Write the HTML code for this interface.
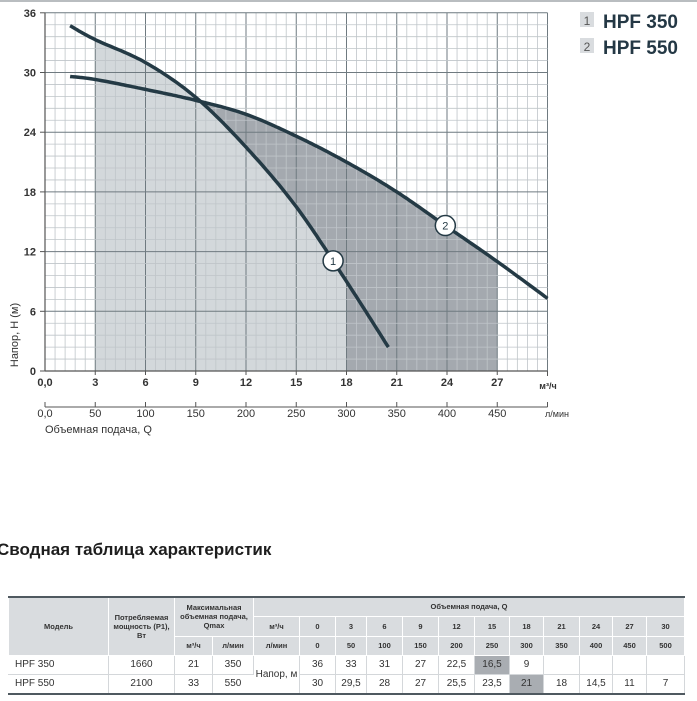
<!DOCTYPE html>
<html><head><meta charset="utf-8">
<style>
body{margin:0;width:697px;height:701px;background:#fff;position:relative;overflow:hidden;font-family:"Liberation Sans",sans-serif;}
#chart{position:absolute;left:0;top:0;}
#title{position:absolute;left:-3px;top:540px;font-size:17px;font-weight:bold;color:#1e1e1e;white-space:nowrap;}
table{position:absolute;left:8px;top:596px;border-collapse:collapse;table-layout:fixed;font-size:9px;color:#333;border-top:2px solid #4f5960;border-bottom:2px solid #4f5960;}
th{background:#d9dcdf;font-weight:bold;font-size:7.5px;border:1px solid #fff;padding:0;text-align:center;color:#333;line-height:9px;}
td{border:1px solid #d4d7da;border-left:1px solid #fff;padding:0;text-align:center;font-size:10px;height:18px;}
td.hl{background:#a9adb2;}
td.m{text-align:left;padding-left:6px;}
</style></head><body>
<svg id="chart" width="697" height="520" xmlns="http://www.w3.org/2000/svg">
<line x1="0" y1="1" x2="697" y2="1" stroke="#b9bdc0" stroke-width="2"/>
<g id="fills"></g><g id="grid"></g><g id="curves"></g><g id="axes"></g>
<g>
<rect x="580" y="12" width="14" height="15" fill="#d9dcdf"/><text x="587" y="25" font-size="12" text-anchor="middle" fill="#555">1</text>
<text x="603" y="28" font-size="19" font-weight="bold" fill="#243845">HPF 350</text>
<rect x="580" y="38" width="14" height="15" fill="#d9dcdf"/><text x="587" y="51" font-size="12" text-anchor="middle" fill="#555">2</text>
<text x="603" y="54" font-size="19" font-weight="bold" fill="#243845">HPF 550</text>
</g>
</svg>
<div id="title">Сводная таблица характеристик</div>
<table>
<colgroup><col style="width:100px"><col style="width:66px"><col style="width:38px"><col style="width:41px"><col style="width:46px"><col style="width:36px"><col style="width:31px"><col style="width:36px"><col style="width:36px"><col style="width:36px"><col style="width:35px"><col style="width:34px"><col style="width:36px"><col style="width:33px"><col style="width:34px"><col style="width:38px"></colgroup>
<tr style="height:19px"><th rowspan="3">Модель</th><th rowspan="3">Потребляемая мощность (P1), Вт</th><th colspan="2" rowspan="2">Максимальная объемная подача, Qmax</th><th colspan="12">Объемная подача, Q</th></tr>
<tr style="height:20px"><th>м³/ч</th><th>0</th><th>3</th><th>6</th><th>9</th><th>12</th><th>15</th><th>18</th><th>21</th><th>24</th><th>27</th><th>30</th></tr>
<tr style="height:19px"><th>м³/ч</th><th>л/мин</th><th>л/мин</th><th>0</th><th>50</th><th>100</th><th>150</th><th>200</th><th>250</th><th>300</th><th>350</th><th>400</th><th>450</th><th>500</th></tr>
<tr><td class="m">HPF 350</td><td>1660</td><td>21</td><td>350</td><td rowspan="2">Напор, м</td><td>36</td><td>33</td><td>31</td><td>27</td><td>22,5</td><td class="hl">16,5</td><td>9</td><td></td><td></td><td></td><td></td></tr>
<tr><td class="m">HPF 550</td><td>2100</td><td>33</td><td>550</td><td>30</td><td>29,5</td><td>28</td><td>27</td><td>25,5</td><td>23,5</td><td class="hl">21</td><td>18</td><td>14,5</td><td>11</td><td>7</td></tr>
</table>
<script>
const xTicks=[3,6,9,12,15,18,21,24,27];
const xTickLabels=["3","6","9","12","15","18","21","24","27"];
const lpmTicks=[50,100,150,200,250,300,350,400,450];
const yTicks=[0,6,12,18,24,30,36];
const q350=[1.5,3,6,9,12,15,18,20.5];
const h350=[34.7,33.3,31,27.5,22.5,16.5,9,2.4];
const q550=[1.5,3,6,9,12,15,18,21,24,27,30];
const h550=[29.6,29.3,28.3,27.2,25.8,23.6,21,18,14.5,11,7.3];
const SVGNS="http://www.w3.org/2000/svg";
const X=q=>45+q*16.75, Y=h=>371-h*9.95;
function mk(tag,attrs,parent){const e=document.createElementNS(SVGNS,tag);for(const k in attrs)e.setAttribute(k,attrs[k]);parent.appendChild(e);return e;}
function dense(qs,hs){const out=[];const n=qs.length;
 for(let i=0;i<n-1;i++){const p0=i>0?i-1:i,p3=i+2<n?i+2:i+1;
  for(let s=0;s<20;s++){const t=s/20,t2=t*t,t3=t2*t;
   const f=(a,b,c,d)=>0.5*(2*b+(-a+c)*t+(2*a-5*b+4*c-d)*t2+(-a+3*b-3*c+d)*t3);
   out.push([f(qs[p0],qs[i],qs[i+1],qs[p3]),f(hs[p0],hs[i],hs[i+1],hs[p3])]);}}
 out.push([qs[n-1],hs[n-1]]);return out;}
function hAt(d,q){for(let i=0;i<d.length-1;i++){if(d[i][0]<=q&&d[i+1][0]>=q){const t=(q-d[i][0])/(d[i+1][0]-d[i][0]);return d[i][1]+t*(d[i+1][1]-d[i][1]);}}return q<d[0][0]?d[0][1]:d[d.length-1][1];}
function area(d,a,b){let pts=[[a,0],[a,hAt(d,a)]];d.forEach(p=>{if(p[0]>a&&p[0]<b)pts.push(p);});pts.push([b,hAt(d,b)],[b,0]);return pts.map(p=>X(p[0]).toFixed(1)+","+Y(p[1]).toFixed(1)).join(" ");}
const d350=dense(q350,h350),d550=dense(q550,h550);
const fills=document.getElementById('fills');
let el=mk('polygon',{points:area(d550,3,27),fill:'#a4a9af'},fills);


el=mk('polygon',{points:area(d350,3,18),fill:'#d3d8db'},fills);


const grid=document.getElementById('grid');
for(let i=0;i<=50;i++){const q=i*0.6,maj=i%5===0;
 el=mk('line',{x1:X(q),x2:X(q),y1:Y(36),y2:Y(0),stroke:maj?'#6f7a80':'#bfc5c9','stroke-width':maj?1:0.8},grid);
 
 }
for(let i=0;i<=30;i++){const h=i*1.2,maj=i%5===0;
 el=mk('line',{x1:X(0),x2:X(30),y1:Y(h),y2:Y(h),stroke:maj?'#6f7a80':'#bfc5c9','stroke-width':maj?1:0.8},grid);
 
 }
const curves=document.getElementById('curves');
function path(d){return d.map((p,i)=>(i?'L':'M')+X(p[0]).toFixed(1)+' '+Y(p[1]).toFixed(1)).join(' ');}
el=mk('path',{d:path(d350),fill:'none',stroke:'#243a45','stroke-width':3.5},curves);


el=mk('path',{d:path(d550),fill:'none',stroke:'#243a45','stroke-width':3.5},curves);


[[d350,17.2,'1'],[d550,23.9,'2']].forEach(([d,q,t])=>{
 const g=mk('g',{},curves);
 
 
 mk('circle',{cx:X(q),cy:Y(hAt(d,q)),r:10,fill:'#fff',stroke:'#243a45','stroke-width':1.5},g);
 const tx=mk('text',{x:X(q),y:Y(hAt(d,q))+4,'font-size':11,'text-anchor':'middle',fill:'#243a45'},g);tx.textContent=t;});
const axes=document.getElementById('axes');
mk('line',{x1:X(0),x2:X(30),y1:Y(0),y2:Y(0),stroke:'#555','stroke-width':1.2},axes);
mk('line',{x1:X(0),x2:X(0),y1:Y(36),y2:Y(0),stroke:'#555','stroke-width':1.2},axes);
mk('line',{x1:X(0),x2:X(30),y1:407,y2:407,stroke:'#555','stroke-width':1},axes);
yTicks.forEach(h=>{mk('line',{x1:X(0)-5,x2:X(0),y1:Y(h),y2:Y(h),stroke:'#555'},axes);
 const t=mk('text',{x:36,y:Y(h)+4,'font-size':11,'font-weight':'bold','text-anchor':'end',fill:'#333'},axes);t.textContent=h;
 
 });
let t=mk('text',{x:45,y:386,'font-size':11,'font-weight':'bold','text-anchor':'middle',fill:'#333'},axes);t.textContent='0,0';
xTicks.forEach((q,i)=>{mk('line',{x1:X(q),x2:X(q),y1:Y(0),y2:Y(0)+4,stroke:'#555'},axes);
 const t=mk('text',{x:X(q),y:386,'font-size':11,'font-weight':'bold','text-anchor':'middle',fill:'#333'},axes);t.textContent=xTickLabels[i];
 
 });
mk('line',{x1:X(30),x2:X(30),y1:Y(0),y2:Y(0)+5,stroke:'#555'},axes);
mk('line',{x1:X(30),x2:X(30),y1:402,y2:407,stroke:'#555'},axes);
mk('line',{x1:X(0),x2:X(0),y1:402,y2:407,stroke:'#555'},axes);
t=mk('text',{x:548,y:389,'font-size':9,'font-weight':'bold','text-anchor':'middle',fill:'#333'},axes);t.textContent='м³/ч';
t=mk('text',{x:45,y:417,'font-size':11,'text-anchor':'middle',fill:'#333'},axes);t.textContent='0,0';
lpmTicks.forEach(v=>{const q=v*0.06;mk('line',{x1:X(q),x2:X(q),y1:402,y2:407,stroke:'#555'},axes);
 const t=mk('text',{x:X(q),y:417,'font-size':11,'text-anchor':'middle',fill:'#333'},axes);t.textContent=v;
 
 });
t=mk('text',{x:557,y:417,'font-size':9,'text-anchor':'middle',fill:'#333'},axes);t.textContent='л/мин';
t=mk('text',{x:45,y:433,'font-size':11,fill:'#333'},axes);t.textContent='Объемная подача, Q';


t=mk('text',{x:0,y:0,'font-size':11,'text-anchor':'middle',fill:'#333',transform:'translate(18,335) rotate(-90)'},axes);t.textContent='Напор, H (м)';


</script>
</body></html>
